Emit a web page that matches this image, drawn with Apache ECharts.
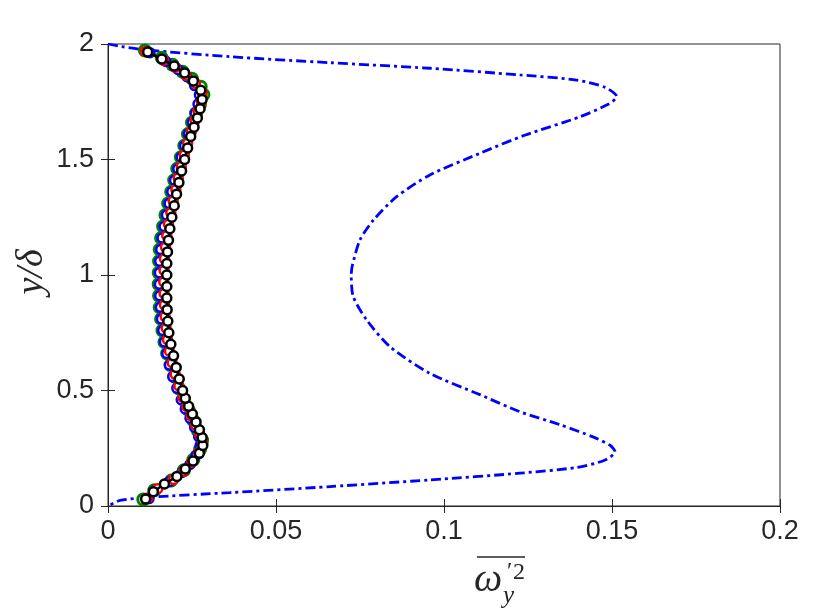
<!DOCTYPE html>
<html>
<head>
<meta charset="utf-8">
<script src="https://cdn.jsdelivr.net/npm/echarts@6/dist/echarts.min.js"></script>
<style>html,body{margin:0;padding:0;background:#fff}#c{width:830px;height:614px}</style>
</head>
<body>
<div id="c"></div>
<script>
// x-axis ticks and y-axis ticks
const xTicks = [0, 0.05, 0.1, 0.15, 0.2];
const yTicks = [0, 0.5, 1, 1.5, 2];

// Blue dash-dot curve (x values, y values)
const dashX = [0, 0.004, 0.0116, 0.0363, 0.0661, 0.0958, 0.1226, 0.1395, 0.1480, 0.1514, 0.1490, 0.1405, 0.1240, 0.1107, 0.0958, 0.0859, 0.0790, 0.0750, 0.0727, 0.0724, 0.0730, 0.0770, 0.0839, 0.0958, 0.1107, 0.1226, 0.1345, 0.1445, 0.1495, 0.1509, 0.1480, 0.1395, 0.1226, 0.0958, 0.0661, 0.0363, 0.0125, 0.0036, 0];
const dashY = [2, 1.989, 1.974, 1.945, 1.919, 1.895, 1.866, 1.844, 1.812, 1.772, 1.740, 1.685, 1.605, 1.527, 1.433, 1.339, 1.238, 1.152, 1.040, 1.000, 0.906, 0.805, 0.690, 0.574, 0.482, 0.408, 0.352, 0.298, 0.262, 0.235, 0.199, 0.167, 0.142, 0.113, 0.084, 0.058, 0.038, 0.024, 0];

// Black series
const blackY = [0.030,0.062,0.095,0.128,0.160,0.195,0.228,0.262,0.296,0.330,0.364,0.398,0.432,0.466,0.500,0.550,0.600,0.650,0.700,0.750,0.800,0.850,0.900,0.950,1.000,1.050,1.100,1.150,1.200,1.250,1.300,1.350,1.400,1.450,1.500,1.550,1.600,1.640,1.680,1.720,1.760,1.800,1.840,1.875,1.905,1.935,1.965];
const blackX = [0.0112,0.0135,0.0168,0.0205,0.0230,0.0253,0.0272,0.0282,0.0280,0.0272,0.0262,0.0251,0.0240,0.0230,0.0222,0.0212,0.0203,0.0195,0.0187,0.0181,0.0178,0.0176,0.0175,0.0175,0.0175,0.0175,0.0177,0.0180,0.0184,0.0190,0.0197,0.0204,0.0211,0.0219,0.0228,0.0237,0.0246,0.0256,0.0266,0.0274,0.0280,0.0276,0.0254,0.0228,0.0197,0.0160,0.0118];

// Red series
const redY = [0.035,0.075,0.115,0.150,0.190,0.230,0.270,0.310,0.350,0.390,0.430,0.470,0.520,0.570,0.620,0.670,0.720,0.770,0.820,0.870,0.920,0.970,1.020,1.070,1.120,1.170,1.220,1.270,1.320,1.370,1.420,1.470,1.520,1.570,1.620,1.670,1.710,1.750,1.790,1.830,1.865,1.900,1.930,1.968];
const redX = [0.0118,0.0148,0.0195,0.0225,0.0249,0.0270,0.0282,0.0273,0.0261,0.0248,0.0235,0.0223,0.0211,0.0200,0.0191,0.0183,0.0177,0.0173,0.0170,0.0168,0.0167,0.0166,0.0167,0.0168,0.0171,0.0175,0.0180,0.0187,0.0194,0.0202,0.0209,0.0218,0.0227,0.0237,0.0248,0.0259,0.0268,0.0278,0.0280,0.0260,0.0232,0.0200,0.0165,0.0112];

// Blue series
const blueY = [0.032,0.070,0.105,0.145,0.180,0.220,0.260,0.300,0.340,0.380,0.420,0.460,0.510,0.560,0.610,0.660,0.710,0.760,0.810,0.860,0.910,0.960,1.010,1.060,1.110,1.160,1.210,1.260,1.310,1.360,1.410,1.460,1.510,1.560,1.610,1.660,1.700,1.740,1.780,1.820,1.858,1.890,1.925,1.962];
const blueX = [0.0122,0.0142,0.0182,0.0220,0.0244,0.0262,0.0274,0.0270,0.0258,0.0244,0.0230,0.0218,0.0205,0.0193,0.0183,0.0175,0.0168,0.0163,0.0159,0.0156,0.0154,0.0153,0.0153,0.0154,0.0157,0.0161,0.0167,0.0174,0.0182,0.0190,0.0198,0.0208,0.0218,0.0228,0.0239,0.0251,0.0260,0.0268,0.0272,0.0258,0.0235,0.0208,0.0172,0.0125];

// Green series
const greenY = [0.028,0.068,0.110,0.155,0.200,0.245,0.285,0.325,0.370,0.415,0.460,0.510,0.560,0.610,0.660,0.710,0.760,0.810,0.860,0.910,0.960,1.010,1.060,1.110,1.160,1.210,1.260,1.310,1.360,1.410,1.460,1.510,1.560,1.610,1.660,1.700,1.740,1.780,1.815,1.850,1.880,1.910,1.940,1.972];
const greenX = [0.0105,0.0138,0.0188,0.0226,0.0254,0.0274,0.0280,0.0268,0.0254,0.0240,0.0225,0.0210,0.0197,0.0186,0.0176,0.0168,0.0162,0.0158,0.0154,0.0152,0.0151,0.0151,0.0152,0.0154,0.0158,0.0164,0.0171,0.0179,0.0188,0.0197,0.0206,0.0217,0.0227,0.0238,0.0250,0.0262,0.0274,0.0284,0.0276,0.0250,0.0222,0.0192,0.0160,0.0110];

const zip = (xs, ys) => xs.map((x, i) => [x, ys[i]]);

const chart = echarts.init(document.getElementById('c'), null, {renderer: 'canvas'});
const frame = '#262626';
const lblFont = {color: frame, fontSize: 27, fontFamily: '"Liberation Sans", Arial, sans-serif'};

function markerSeries(name, color, xs, ys, size, bw, z) {
  return {
    name: name, type: 'line', data: zip(xs, ys), z: z,
    symbol: 'circle', symbolSize: size, showSymbol: true, showAllSymbol: true,
    lineStyle: {color: color, width: 2.5},
    itemStyle: {color: '#ffffff', borderColor: color, borderWidth: bw},
    animation: false, silent: true
  };
}

const axisCommon = {
  axisLine: {show: true, lineStyle: {color: frame, width: 1}},
  axisTick: {show: true, inside: true, length: 7, lineStyle: {color: frame}},
  splitLine: {show: false}
};

chart.setOption({
  animation: false,
  backgroundColor: '#ffffff',
  grid: {left: 108, right: 50, top: 44, bottom: 108, show: true, borderColor: frame, borderWidth: 1},
  xAxis: [
    Object.assign({type: 'value', min: xTicks[0], max: xTicks[xTicks.length - 1], interval: 0.05,
     axisLabel: Object.assign({margin: 12}, lblFont)}, axisCommon),
    Object.assign({type: 'value', position: 'top', min: xTicks[0], max: xTicks[xTicks.length - 1], interval: 0.05,
     axisLabel: {show: false}}, axisCommon)
  ],
  yAxis: [
    Object.assign({type: 'value', min: yTicks[0], max: yTicks[yTicks.length - 1], interval: 0.5,
     axisLabel: Object.assign({margin: 14}, lblFont)}, axisCommon),
    Object.assign({type: 'value', position: 'right', min: yTicks[0], max: yTicks[yTicks.length - 1], interval: 0.5,
     axisLabel: {show: false}}, axisCommon)
  ],
  series: [
    {name: 'dashdot', type: 'line', data: zip(dashX, dashY), showSymbol: false, symbol: 'none', smooth: 0.25,
     lineStyle: {color: '#0000ff', width: 2.8, type: [10, 4, 3, 4]}, z: 2, silent: true},
    markerSeries('green', '#008000', greenX, greenY, 11, 3, 3),
    markerSeries('blue', '#0000ff', blueX, blueY, 9, 2.5, 4),
    markerSeries('red', '#ff0000', redX, redY, 9, 2.5, 5),
    markerSeries('black', '#000000', blackX, blackY, 9, 2.5, 6)
  ],
  graphic: [
    {type: 'text', x: 32, y: 272, rotation: Math.PI / 2,
     style: {text: 'y/δ', fill: frame, align: 'center', verticalAlign: 'middle',
             font: 'italic 38px "Liberation Serif", "DejaVu Serif", serif'}},
    {type: 'line', shape: {x1: 477, y1: 557, x2: 525, y2: 557}, style: {stroke: frame, lineWidth: 1.6}},
    {type: 'text', x: 474, y: 580, style: {text: 'ω', fill: frame, verticalAlign: 'middle',
             font: 'italic 40px "Liberation Serif", "DejaVu Serif", serif'}},
    {type: 'text', x: 507, y: 572, style: {text: '′', fill: frame, verticalAlign: 'middle', font: '24px "Liberation Serif", serif'}},
    {type: 'text', x: 513, y: 573, style: {text: '2', fill: frame, verticalAlign: 'middle', font: '24px "Liberation Serif", serif'}},
    {type: 'text', x: 503, y: 596, style: {text: 'y', fill: frame, verticalAlign: 'middle', font: 'italic 25px "Liberation Serif", serif'}}
  ]
});
</script>
</body>
</html>
